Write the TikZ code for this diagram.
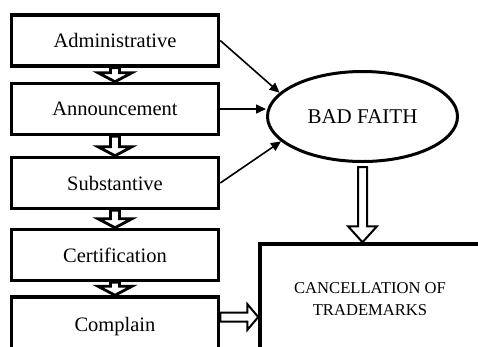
\documentclass[tikz,border=0pt]{standalone}
\usepackage{fontspec}
\setmainfont{Liberation Serif}
\usetikzlibrary{shapes.geometric, arrows.meta, calc}

\tikzset{
  stage/.style={draw, line width=3.5pt, minimum width=207pt, minimum height=51pt,
    inner sep=0pt, font=\fontsize{20.5}{24}\selectfont},
  feed/.style={-{Triangle[length=10pt,width=9pt]}, line width=1.6pt},
  % hollow block arrow: #1 head length, #2 half head width
  hollow/.style 2 args={draw, fill=white, line width=2pt, to path={
    ($(\tikztotarget)!#1!(\tikztostart)$) coordinate (hb)
    ($(\tikztostart)!4.5pt!90:(\tikztotarget)$)
    -- ($(hb)!4.5pt!-90:(\tikztostart)$)
    -- ($(hb)!#2!-90:(\tikztostart)$)
    -- (\tikztotarget)
    -- ($(hb)!#2!90:(\tikztostart)$)
    -- ($(hb)!4.5pt!90:(\tikztostart)$)
    -- ($(\tikztostart)!4.5pt!-90:(\tikztotarget)$)
    -- cycle}}
}

\begin{document}
\begin{tikzpicture}[x=1pt, y=-1pt]
\useasboundingbox (0,0) rectangle (478,346);
\clip (0,0) rectangle (478,346);

% stages of the procedure
\node[stage] (adm) at (115,40.5) {Administrative};
\node[stage] (ann) at (115,109) {Announcement};
\node[stage] (sub) at (115,183) {Substantive};
\node[stage] (cert) at (115,255) {Certification};
\node[stage, minimum height=60pt] (comp) at (115,327) {Complain};

% bad faith and result
\node[ellipse, draw, line width=3pt, minimum width=190pt, minimum height=90pt,
  inner sep=0pt, font=\fontsize{21}{24}\selectfont] (bad) at (362.5,116.5) {BAD FAITH};
\node[draw, line width=3.5pt, minimum width=220pt, minimum height=110pt, align=center,
  font=\fontsize{16.6}{22}\selectfont] (canc) at (370,299) {CANCELLATION OF\\TRADEMARKS};

\foreach \a/\b in {adm/ann, ann/sub, sub/cert, cert/comp}
  \draw[hollow={9pt}{17pt}, line width=2.8pt] (\a.south) to (\b.north);

\draw[feed] (adm.east) -- (bad.164);
\draw[feed] (ann.east) -- (ann.east -| bad.west);
\draw[feed] (sub.east) -- (bad.197);

\coordinate (bout) at ([yshift=-4pt]bad.south);
\coordinate (cdrop) at (bad.south |- canc.north);
\draw[hollow={16pt}{14.5pt}] (bout) to (cdrop);

\coordinate (cin) at ([yshift=-18pt]canc.west);
\coordinate (cout) at (comp.east |- cin);
\draw[hollow={11pt}{13pt}] (cout) to (cin);
\end{tikzpicture}
\end{document}
